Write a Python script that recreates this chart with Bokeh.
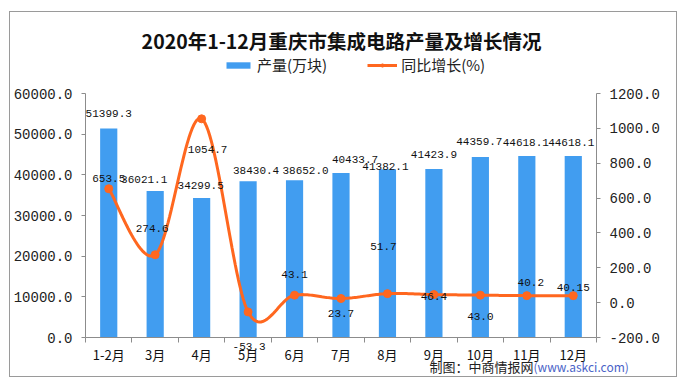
import numpy as np
from bokeh.plotting import figure
from bokeh.models import (Range1d, LinearAxis, FixedTicker, Label, Legend, LegendItem,
                          ColumnDataSource, NumeralTickFormatter, CustomJSTickFormatter)
from bokeh.embed import file_html
from bokeh.resources import INLINE
from bokeh.core.properties import value

# ---------------- data ----------------
title_text = "2020年1-12月重庆市集成电路产量及增长情况"
months = ["1-2月", "3月", "4月", "5月", "6月", "7月", "8月", "9月", "10月", "11月", "12月"]
output = [51399.3, 36021.1, 34299.5, 38430.4, 38652.0, 40433.7, 41382.1, 41423.9, 44359.7, 44618.1, 44618.1]
output_text = ["51399.3", "36021.1", "34299.5", "38430.4", "38652.0", "40433.7", "41382.1", "41423.9", "44359.7", "44618.1", "44618.1"]
growth = [653.5, 274.6, 1054.7, -53.3, 43.1, 23.7, 51.7, 46.4, 43.0, 40.2, 40.15]
growth_text = ["653.5", "274.6", "1054.7", "-53.3", "43.1", "23.7", "51.7", "46.4", "43.0", "40.2", "40.15"]
left_ticks = [0, 10000, 20000, 30000, 40000, 50000, 60000]
right_ticks = [-200, 0, 200, 400, 600, 800, 1000, 1200]
series_names = ["产量(万块)", "同比增长(%)"]
source_cn = "制图：中商情报网"
source_url = "(www.askci.com)"

# ---------------- label placement (style, screen px) ----------------
bar_dx = [0, -11, -1, 8, 11, 14, -2, 0, -1, -1, -2]
bar_dy = [-15, -12, -13, -11, -10, -14, -3, -15, -16, -14, -14]
line_dx = [0, -3, 6, 1, 0, 0, -4, 0, 0, 4, 0]
line_dy = [-10, -26, 31, 35, -21, 15, -47, 2, 21, -13, -8]

BAR = "#419DF0"
LINE = "#FF671F"
AXIS = "#8C8C8C"
CJK = "Noto Sans CJK SC"
MONO = "Liberation Mono"

# ---------------- layout (pixels inside the bordered box) ----------------
W, H = 668, 366
AX_L, AX_R = 75, 586                  # pixel columns of left / right value axes
AX_TOP_PX, AX_BOT_PX = 81, 325        # pixel rows of axis top / bottom
ax_h = AX_BOT_PX - AX_TOP_PX
ax_w = AX_R - AX_L

n = len(months)
xu = n / ax_w
x0, x1 = 0 - AX_L * xu, n + (W - AX_R) * xu

lmin, lmax = left_ticks[0], left_ticks[-1]
rmin, rmax = right_ticks[0], right_ticks[-1]
lu = (lmax - lmin) / ax_h
ru = (rmax - rmin) / ax_h
ly0, ly1 = lmin - (H - AX_BOT_PX) * lu, lmax + AX_TOP_PX * lu
ry0, ry1 = rmin - (H - AX_BOT_PX) * ru, rmax + AX_TOP_PX * ru

xs = [i + 0.5 for i in range(n)]


def smooth(x, y, per=30):
    P = np.column_stack([x, y]).astype(float)
    E = np.vstack([P[0], P, P[-1]])
    pts = []
    t = np.linspace(0, 1, per)[:, None]
    for i in range(len(P) - 1):
        p0, p1, p2, p3 = E[i], E[i + 1], E[i + 2], E[i + 3]
        c1 = p1 + (p2 - p0) / 6.0
        c2 = p2 - (p3 - p1) / 6.0
        seg = (1 - t) ** 3 * p1 + 3 * (1 - t) ** 2 * t * c1 + 3 * (1 - t) * t ** 2 * c2 + t ** 3 * p2
        pts.append(seg if i == 0 else seg[1:])
    S = np.vstack(pts)
    return S[:, 0], S[:, 1]


sx, sy = smooth(xs, growth)

p = figure(width=W, height=H, output_backend="svg", toolbar_location=None,
           x_range=Range1d(x0, x1), y_range=Range1d(ly0, ly1),
           min_border_left=0, min_border_right=0, min_border_top=0, min_border_bottom=0)
p.margin = (11, 0, 0, 9)
p.styles = {"border": "1px solid #9a9a9a"}
p.extra_y_ranges = {"r": Range1d(ry0, ry1)}
p.outline_line_color = None
p.xgrid.visible = False
p.ygrid.visible = False
p.background_fill_color = "white"
p.border_fill_color = "white"

bars = p.vbar(x=xs, top=output, width=0.37, bottom=0, fill_color=BAR, line_color=None)
ln = p.line(sx, sy, y_range_name="r", line_color=LINE, line_width=3)
pts = p.scatter(xs, growth, y_range_name="r", size=8, fill_color=LINE, line_color=LINE)

bsrc = ColumnDataSource(dict(x=xs, y=output, t=output_text, dx=bar_dx, dy=bar_dy))
p.text(x="x", y="y", text="t", x_offset="dx", y_offset="dy", source=bsrc,
       text_font=value(MONO), text_font_size="11px", text_color="#111111",
       text_align="center", text_baseline="middle")
lsrc = ColumnDataSource(dict(x=xs, y=growth, t=growth_text, dx=line_dx, dy=line_dy))
p.text(x="x", y="y", text="t", x_offset="dx", y_offset="dy", source=lsrc, y_range_name="r",
       text_font=value(MONO), text_font_size="11px", text_color="#111111",
       text_align="center", text_baseline="middle")

# axes
xa = p.xaxis[0]
xa.fixed_location = 0
xa.bounds = (0, n)
xa.ticker = FixedTicker(ticks=xs, minor_ticks=list(range(n + 1)))
xa.formatter = CustomJSTickFormatter(args=dict(labels=months),
                                     code="return labels[Math.round(tick - 0.5)] || '';")
xa.major_tick_out = 0
xa.major_tick_in = 0
xa.minor_tick_out = 5
xa.minor_tick_in = 0
xa.minor_tick_line_color = AXIS
xa.axis_line_color = AXIS
xa.major_label_standoff = 2
xa.major_label_text_font = CJK
xa.major_label_text_font_size = "13px"
xa.major_label_text_color = "#111111"

ya = p.yaxis[0]
ya.fixed_location = 0
ya.ticker = FixedTicker(ticks=left_ticks)
ya.formatter = NumeralTickFormatter(format="0.0")
ya.bounds = (lmin, lmax)
ra = LinearAxis(y_range_name="r", ticker=FixedTicker(ticks=right_ticks),
                formatter=NumeralTickFormatter(format="0.0"), bounds=(rmin, rmax),
                fixed_location=n)
p.add_layout(ra, "right")
for ax in (ya, ra):
    ax.axis_line_color = AXIS
    ax.major_tick_line_color = AXIS
    ax.major_tick_out = 4
    ax.major_tick_in = 0
    ax.minor_tick_line_color = None
    ax.major_label_standoff = 9
    ax.major_label_text_font = MONO
    ax.major_label_text_font_size = "14px"
    ax.major_label_text_color = "#222222"

# legend
legend = Legend(items=[LegendItem(label=series_names[0], renderers=[bars]),
                       LegendItem(label=series_names[1], renderers=[ln, pts])],
                orientation="horizontal", location=(213, 303),
                glyph_width=30, glyph_height=8, label_standoff=4, spacing=40,
                padding=0, margin=0, border_line_color=None, background_fill_alpha=0,
                label_text_font=CJK, label_text_font_size="15px", label_text_color="#222222")
p.add_layout(legend, "center")

# title and source
p.add_layout(Label(x=331, y=338, x_units="screen", y_units="screen", text=title_text,
                   text_font=CJK, text_font_size="19.5px", text_font_style="bold",
                   text_align="center", text_baseline="middle", text_color="#111111"))
p.add_layout(Label(x=523, y=12, x_units="screen", y_units="screen", text=source_cn,
                   text_font=CJK, text_font_size="13px",
                   text_align="right", text_baseline="middle", text_color="#222222"))
p.add_layout(Label(x=523, y=12, x_units="screen", y_units="screen", text=source_url,
                   text_font=CJK, text_font_size="12px",
                   text_align="left", text_baseline="middle", text_color="#4A63C8"))

open("out.html", "w").write(file_html(p, INLINE))
